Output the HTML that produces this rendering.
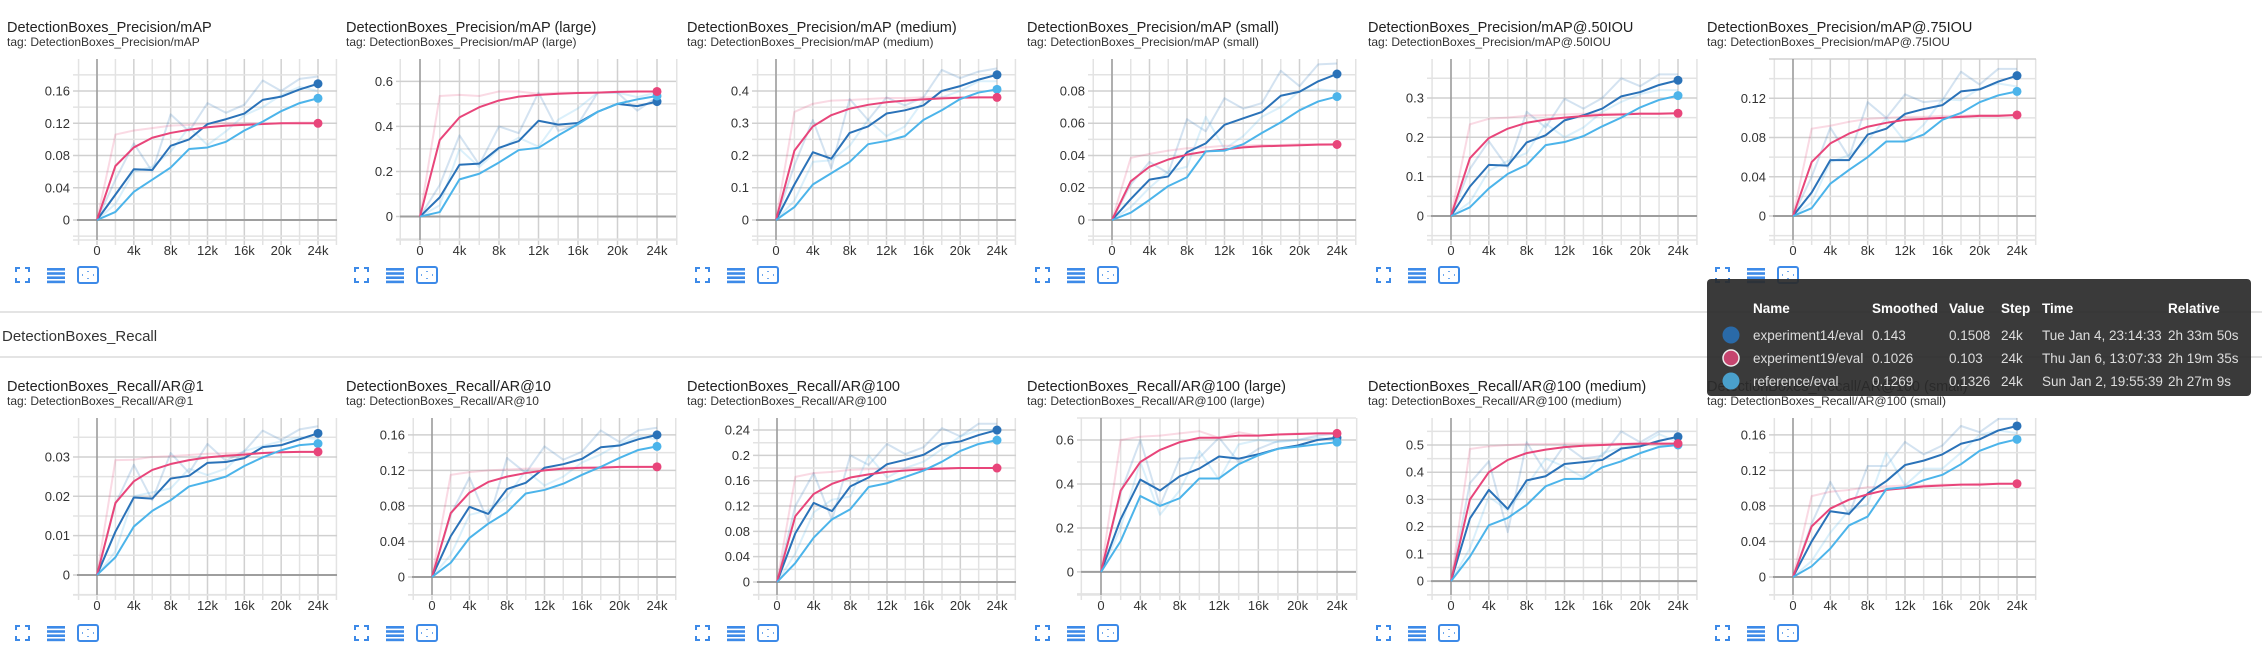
<!DOCTYPE html>
<html><head><meta charset="utf-8">
<style>
html,body{margin:0;padding:0;background:#fff;width:2262px;height:656px;overflow:hidden;font-family:"Liberation Sans",sans-serif;}
svg{display:block}
</style></head>
<body>
<svg id="root" width="2262" height="656" viewBox="0 0 2262 656" xmlns="http://www.w3.org/2000/svg">
<line x1="0" y1="312" x2="2262" y2="312" stroke="#dcdcdc" stroke-width="1.5"/>
<text x="2" y="341" font-size="15" fill="#333">DetectionBoxes_Recall</text>
<line x1="0" y1="357" x2="2262" y2="357" stroke="#dcdcdc" stroke-width="1.5"/>
<g id="charts"></g>
<g id="tooltip">
<rect x="1707" y="279" width="544" height="117" rx="4" fill="#2b2b2b" fill-opacity="0.93"/>
<g font-size="13.5" font-weight="bold" fill="#fff">
<text x="1753" y="313">Name</text><text x="1872" y="313">Smoothed</text><text x="1949" y="313">Value</text><text x="2001" y="313">Step</text><text x="2042" y="313">Time</text><text x="2168" y="313">Relative</text>
</g>
<g font-size="13.5" fill="#ddd">
<circle cx="1731" cy="335" r="8.5" fill="#2a6aa8"/>
<text x="1753" y="340">experiment14/eval</text><text x="1872" y="340">0.143</text><text x="1949" y="340">0.1508</text><text x="2001" y="340">24k</text><text x="2042" y="340">Tue Jan 4, 23:14:33</text><text x="2168" y="340">2h 33m 50s</text>
<circle cx="1731" cy="358" r="8" fill="#c6456f" stroke="#eee" stroke-width="1.5"/>
<text x="1753" y="363">experiment19/eval</text><text x="1872" y="363">0.1026</text><text x="1949" y="363">0.103</text><text x="2001" y="363">24k</text><text x="2042" y="363">Thu Jan 6, 13:07:33</text><text x="2168" y="363">2h 19m 35s</text>
<circle cx="1731" cy="381" r="8.5" fill="#4aa0cc"/>
<text x="1753" y="386">reference/eval</text><text x="1872" y="386">0.1269</text><text x="1949" y="386">0.1326</text><text x="2001" y="386">24k</text><text x="2042" y="386">Sun Jan 2, 19:55:39</text><text x="2168" y="386">2h 27m 9s</text>
</g>
</g>
</svg>
<script>
const steps = [0,2000,4000,6000,8000,10000,12000,14000,16000,18000,20000,22000,24000];
const xTickValues = [0,4000,8000,12000,16000,20000,24000];
const xTickLabels = ["0","4k","8k","12k","16k","20k","24k"];

// Chart 1: mAP
const c1Ticks = [0,0.04,0.08,0.12,0.16];
const c1Exp14 = [0,0.0315,0.063,0.062,0.092,0.1,0.119,0.125,0.132,0.149,0.153,0.162,0.169];
const c1Exp19 = [0,0.067,0.09,0.102,0.108,0.112,0.115,0.117,0.118,0.119,0.12,0.12,0.12];
const c1Ref = [0,0.01,0.035,0.05,0.065,0.088,0.09,0.097,0.111,0.122,0.135,0.145,0.151];
const c1Exp14Raw = [0,0.05,0.095,0.06,0.131,0.11,0.145,0.133,0.143,0.173,0.16,0.175,0.178];
const c1Exp19Raw = [0,0.106,0.111,0.114,0.117,0.118,0.119,0.12,0.12,0.12,0.12,0.121,0.121];
const c1RefRaw = [0,0.02,0.06,0.066,0.085,0.115,0.093,0.11,0.13,0.14,0.155,0.165,0.16];
// Chart 2: mAP (large)
const c2Ticks = [0,0.2,0.4,0.6];
const c2Exp14 = [0,0.085,0.23,0.235,0.305,0.335,0.425,0.408,0.415,0.465,0.5,0.49,0.51];
const c2Exp19 = [0,0.34,0.44,0.485,0.515,0.532,0.54,0.545,0.548,0.55,0.553,0.555,0.555];
const c2Ref = [0,0.02,0.165,0.19,0.24,0.295,0.305,0.36,0.41,0.465,0.5,0.52,0.535];
const c2Exp14Raw = [0,0.14,0.36,0.23,0.4,0.37,0.55,0.38,0.41,0.55,0.55,0.47,0.53];
const c2Exp19Raw = [0,0.535,0.54,0.535,0.555,0.555,0.545,0.55,0.55,0.55,0.555,0.555,0.555];
const c2RefRaw = [0,0.05,0.3,0.22,0.3,0.35,0.31,0.43,0.48,0.55,0.55,0.53,0.55];
// Chart 3: mAP (medium)
const c3Ticks = [0,0.1,0.2,0.3,0.4];
const c3Exp14 = [0,0.11,0.21,0.19,0.27,0.29,0.33,0.34,0.355,0.4,0.415,0.435,0.45];
const c3Exp19 = [0,0.215,0.29,0.325,0.345,0.357,0.365,0.37,0.374,0.377,0.379,0.38,0.38];
const c3Ref = [0,0.04,0.11,0.145,0.18,0.235,0.245,0.26,0.31,0.34,0.375,0.395,0.405];
const c3Exp14Raw = [0,0.17,0.31,0.16,0.375,0.31,0.38,0.355,0.38,0.465,0.44,0.46,0.47];
const c3Exp19Raw = [0,0.335,0.36,0.37,0.372,0.375,0.378,0.378,0.38,0.38,0.38,0.38,0.38];
const c3RefRaw = [0,0.06,0.18,0.185,0.23,0.31,0.26,0.29,0.37,0.38,0.4,0.43,0.43];
// Chart 4: mAP (small)
const c4Ticks = [0,0.02,0.04,0.06,0.08];
const c4Exp14 = [0,0.013,0.025,0.027,0.042,0.0475,0.059,0.063,0.067,0.077,0.0795,0.086,0.0905];
const c4Exp19 = [0,0.024,0.033,0.0375,0.0405,0.0425,0.0437,0.045,0.0457,0.046,0.0463,0.0467,0.0468];
const c4Ref = [0,0.0045,0.0125,0.021,0.0265,0.0425,0.043,0.047,0.054,0.0605,0.068,0.0735,0.0765];
const c4Exp14Raw = [0,0.022,0.036,0.029,0.0625,0.055,0.0755,0.069,0.0725,0.0925,0.083,0.0965,0.097];
const c4Exp19Raw = [0,0.0385,0.041,0.043,0.0445,0.045,0.046,0.046,0.0465,0.0465,0.047,0.047,0.047];
const c4RefRaw = [0,0.008,0.02,0.03,0.033,0.064,0.044,0.052,0.064,0.07,0.08,0.081,0.08];
// Chart 5: mAP@.50IOU
const c5Ticks = [0,0.1,0.2,0.3];
const c5Exp14 = [0,0.075,0.13,0.128,0.187,0.205,0.243,0.256,0.273,0.304,0.315,0.333,0.345];
const c5Exp19 = [0,0.147,0.198,0.222,0.237,0.245,0.25,0.254,0.257,0.258,0.26,0.26,0.261];
const c5Ref = [0,0.022,0.07,0.107,0.13,0.18,0.188,0.203,0.228,0.25,0.276,0.295,0.306];
const c5Exp14Raw = [0,0.12,0.19,0.123,0.265,0.225,0.298,0.273,0.3,0.35,0.33,0.36,0.36];
const c5Exp19Raw = [0,0.233,0.247,0.25,0.255,0.256,0.258,0.26,0.26,0.26,0.261,0.261,0.261];
const c5RefRaw = [0,0.035,0.115,0.14,0.16,0.235,0.2,0.225,0.265,0.29,0.31,0.32,0.32];
// Chart 6: mAP@.75IOU
const c6Ticks = [0,0.04,0.08,0.12];
const c6Exp14 = [0,0.024,0.057,0.057,0.083,0.089,0.104,0.109,0.113,0.127,0.129,0.137,0.143];
const c6Exp19 = [0,0.055,0.074,0.084,0.091,0.095,0.098,0.099,0.1,0.101,0.102,0.102,0.103];
const c6Ref = [0,0.008,0.033,0.047,0.06,0.076,0.076,0.083,0.098,0.105,0.116,0.123,0.127];
const c6Exp14Raw = [0,0.04,0.09,0.06,0.116,0.1,0.124,0.116,0.118,0.147,0.134,0.15,0.15];
const c6Exp19Raw = [0,0.089,0.092,0.096,0.099,0.1,0.101,0.101,0.102,0.102,0.103,0.103,0.103];
const c6RefRaw = [0,0.014,0.055,0.062,0.077,0.1,0.076,0.093,0.119,0.118,0.13,0.135,0.132];
// Chart 7: AR@1
const c7Ticks = [0,0.01,0.02,0.03];
const c7Exp14 = [0,0.011,0.0197,0.0194,0.0245,0.0252,0.0285,0.0287,0.0297,0.0325,0.033,0.0345,0.036];
const c7Exp19 = [0,0.0183,0.0238,0.0267,0.0282,0.0292,0.0299,0.0303,0.0306,0.031,0.0312,0.0313,0.0313];
const c7Ref = [0,0.0045,0.0123,0.0163,0.019,0.0225,0.0237,0.025,0.0277,0.0299,0.0317,0.033,0.0334];
const c7Exp14Raw = [0,0.018,0.028,0.019,0.031,0.026,0.0333,0.029,0.0315,0.0367,0.0343,0.037,0.0378];
const c7Exp19Raw = [0,0.0292,0.0293,0.03,0.0302,0.0305,0.0308,0.0309,0.031,0.031,0.0312,0.0313,0.0313];
const c7RefRaw = [0,0.006,0.02,0.021,0.022,0.027,0.0254,0.027,0.0315,0.0328,0.034,0.035,0.0345];
// Chart 8: AR@10
const c8Ticks = [0,0.04,0.08,0.12,0.16];
const c8Exp14 = [0,0.046,0.079,0.071,0.099,0.106,0.123,0.127,0.133,0.146,0.148,0.155,0.16];
const c8Exp19 = [0,0.072,0.095,0.107,0.113,0.117,0.12,0.122,0.123,0.123,0.124,0.124,0.124];
const c8Ref = [0,0.016,0.044,0.06,0.073,0.094,0.098,0.105,0.115,0.124,0.134,0.143,0.147];
const c8Exp14Raw = [0,0.07,0.112,0.062,0.134,0.117,0.147,0.132,0.141,0.165,0.152,0.165,0.168];
const c8Exp19Raw = [0,0.115,0.118,0.12,0.121,0.122,0.122,0.123,0.123,0.124,0.124,0.124,0.124];
const c8RefRaw = [0,0.025,0.07,0.075,0.09,0.12,0.103,0.113,0.129,0.138,0.15,0.158,0.155];
// Chart 9: AR@100
const c9Ticks = [0,0.04,0.08,0.12,0.16,0.2,0.24];
const c9Exp14 = [0,0.077,0.125,0.112,0.151,0.165,0.186,0.193,0.201,0.218,0.222,0.232,0.24];
const c9Exp19 = [0,0.104,0.139,0.155,0.165,0.17,0.174,0.176,0.178,0.179,0.18,0.18,0.18];
const c9Ref = [0,0.03,0.07,0.099,0.115,0.15,0.156,0.166,0.176,0.19,0.207,0.218,0.224];
const c9Exp14Raw = [0,0.12,0.172,0.098,0.2,0.185,0.218,0.202,0.213,0.243,0.23,0.25,0.25];
const c9Exp19Raw = [0,0.166,0.172,0.174,0.177,0.178,0.179,0.179,0.18,0.18,0.18,0.18,0.18];
const c9RefRaw = [0,0.045,0.11,0.13,0.135,0.2,0.165,0.18,0.19,0.21,0.23,0.24,0.24];
// Chart 10: AR@100 (large)
const c10Ticks = [0,0.2,0.4,0.6];
const c10Exp14 = [0,0.24,0.42,0.37,0.435,0.47,0.525,0.515,0.535,0.56,0.575,0.6,0.61];
const c10Exp19 = [0,0.37,0.5,0.555,0.59,0.61,0.61,0.62,0.62,0.625,0.627,0.63,0.63];
const c10Ref = [0,0.14,0.345,0.3,0.335,0.425,0.425,0.49,0.53,0.56,0.57,0.58,0.59];
const c10Exp14Raw = [0,0.36,0.6,0.3,0.515,0.52,0.61,0.5,0.56,0.595,0.6,0.62,0.63];
const c10Exp19Raw = [0,0.6,0.615,0.62,0.63,0.64,0.61,0.635,0.62,0.625,0.63,0.63,0.63];
const c10RefRaw = [0,0.2,0.5,0.26,0.37,0.55,0.42,0.58,0.6,0.59,0.6,0.61,0.6];
// Chart 11: AR@100 (medium)
const c11Ticks = [0,0.1,0.2,0.3,0.4,0.5];
const c11Exp14 = [0,0.23,0.335,0.265,0.37,0.385,0.43,0.437,0.445,0.487,0.495,0.515,0.53];
const c11Exp19 = [0,0.3,0.4,0.445,0.47,0.483,0.492,0.497,0.5,0.503,0.505,0.505,0.505];
const c11Ref = [0,0.09,0.205,0.232,0.28,0.348,0.375,0.376,0.418,0.44,0.47,0.493,0.5];
const c11Exp14Raw = [0,0.36,0.44,0.18,0.51,0.4,0.5,0.45,0.46,0.55,0.51,0.55,0.55];
const c11Exp19Raw = [0,0.485,0.495,0.5,0.503,0.503,0.505,0.505,0.505,0.505,0.505,0.505,0.505];
const c11RefRaw = [0,0.12,0.31,0.26,0.35,0.45,0.42,0.38,0.47,0.49,0.5,0.54,0.51];
// Chart 12: AR@100 (small)
const c12Ticks = [0,0.04,0.08,0.12,0.16];
const c12Exp14 = [0,0.04,0.074,0.071,0.094,0.108,0.126,0.131,0.138,0.15,0.155,0.165,0.17];
const c12Exp19 = [0,0.057,0.077,0.087,0.093,0.098,0.1,0.102,0.103,0.104,0.104,0.105,0.105];
const c12Ref = [0,0.012,0.032,0.058,0.068,0.099,0.101,0.109,0.115,0.127,0.142,0.15,0.155];
const c12Exp14Raw = [0,0.06,0.107,0.07,0.125,0.125,0.152,0.138,0.148,0.17,0.163,0.178,0.178];
const c12Exp19Raw = [0,0.091,0.096,0.098,0.101,0.102,0.103,0.103,0.104,0.104,0.105,0.105,0.105];
const c12RefRaw = [0,0.018,0.05,0.075,0.082,0.14,0.103,0.122,0.122,0.14,0.16,0.165,0.162];

const charts = [
 {t:"DetectionBoxes_Precision/mAP",cx:7,row:0,l:77,r:337,y0:-0.0248,y1:0.1997,ticks:c1Ticks,s:[c1Exp14,c1Exp19,c1Ref],raw:[c1Exp14Raw,c1Exp19Raw,c1RefRaw]},
 {t:"DetectionBoxes_Precision/mAP (large)",cx:346,row:0,l:400,r:676,y0:-0.104,y1:0.699,ticks:c2Ticks,s:[c2Exp14,c2Exp19,c2Ref],raw:[c2Exp14Raw,c2Exp19Raw,c2RefRaw]},
 {t:"DetectionBoxes_Precision/mAP (medium)",cx:687,row:0,l:756,r:1016,y0:-0.062,y1:0.499,ticks:c3Ticks,s:[c3Exp14,c3Exp19,c3Ref],raw:[c3Exp14Raw,c3Exp19Raw,c3RefRaw]},
 {t:"DetectionBoxes_Precision/mAP (small)",cx:1027,row:0,l:1092,r:1356,y0:-0.0124,y1:0.0998,ticks:c4Ticks,s:[c4Exp14,c4Exp19,c4Ref],raw:[c4Exp14Raw,c4Exp19Raw,c4RefRaw]},
 {t:"DetectionBoxes_Precision/mAP@.50IOU",cx:1368,row:0,l:1431,r:1697,y0:-0.061,y1:0.399,ticks:c5Ticks,s:[c5Exp14,c5Exp19,c5Ref],raw:[c5Exp14Raw,c5Exp19Raw,c5RefRaw]},
 {t:"DetectionBoxes_Precision/mAP@.75IOU",cx:1707,row:0,l:1773,r:2036,y0:-0.0244,y1:0.16,ticks:c6Ticks,s:[c6Exp14,c6Exp19,c6Ref],raw:[c6Exp14Raw,c6Exp19Raw,c6RefRaw]},
 {t:"DetectionBoxes_Recall/AR@1",cx:7,row:1,l:77,r:337,y0:-0.0051,y1:0.0399,ticks:c7Ticks,s:[c7Exp14,c7Exp19,c7Ref],raw:[c7Exp14Raw,c7Exp19Raw,c7RefRaw]},
 {t:"DetectionBoxes_Recall/AR@10",cx:346,row:1,l:412,r:676,y0:-0.0203,y1:0.179,ticks:c8Ticks,s:[c8Exp14,c8Exp19,c8Ref],raw:[c8Exp14Raw,c8Exp19Raw,c8RefRaw]},
 {t:"DetectionBoxes_Recall/AR@100",cx:687,row:1,l:757,r:1016,y0:-0.0205,y1:0.259,ticks:c9Ticks,s:[c9Exp14,c9Exp19,c9Ref],raw:[c9Exp14Raw,c9Exp19Raw,c9RefRaw]},
 {t:"DetectionBoxes_Recall/AR@100 (large)",cx:1027,row:1,l:1081,r:1356,y0:-0.105,y1:0.7,ticks:c10Ticks,s:[c10Exp14,c10Exp19,c10Ref],raw:[c10Exp14Raw,c10Exp19Raw,c10RefRaw]},
 {t:"DetectionBoxes_Recall/AR@100 (medium)",cx:1368,row:1,l:1431,r:1697,y0:-0.051,y1:0.599,ticks:c11Ticks,s:[c11Exp14,c11Exp19,c11Ref],raw:[c11Exp14Raw,c11Exp19Raw,c11RefRaw]},
 {t:"DetectionBoxes_Recall/AR@100 (small)",cx:1707,row:1,l:1773,r:2036,y0:-0.0203,y1:0.179,ticks:c12Ticks,s:[c12Exp14,c12Exp19,c12Ref],raw:[c12Exp14Raw,c12Exp19Raw,c12RefRaw]}
];
const colors = ["#2a72b8","#e8457a","#4cb4ea"];
const seriesNames = ["experiment14","experiment19","reference"];
const NS = "http://www.w3.org/2000/svg";
const root = document.getElementById("charts");
function mk(tag, attrs, parent){
  const e = document.createElementNS(NS, tag);
  for (const k in attrs) e.setAttribute(k, attrs[k]);
  parent.appendChild(e);
  return e;
}
function fmt(v){ return String(parseFloat(v.toFixed(4))); }

charts.forEach((c, ci) => {
  const dy = c.row === 0 ? 0 : 359;
  const top = 59 + dy, bot = 240 + dy - (c.row===1?4:0);
  const g = mk("g", {}, root);
  
  
  const t = mk("text", {x:c.cx, y:32+dy, "font-size":14.5, fill:"#212121"}, g);
  t.textContent = c.t;
  
  
  const tg = mk("text", {x:c.cx, y:46+dy, "font-size":12, fill:"#333"}, g);
  tg.textContent = "tag: " + c.t;
  
  

  const x0px = c.l + 20, x24px = c.r - 19;
  const xs = v => x0px + (v/24000)*(x24px - x0px);
  const ys = v => bot - (v - c.y0)/(c.y1 - c.y0)*(bot - top);

  // vertical grid
  for (let s = -2000; s <= 26000; s += 2000) {
    const x = xs(s);
    if (x < c.l - 1 || x > c.r + 1) continue;
    const major = (s % 4000 === 0);
    const gl = mk("line", {x1:x, y1:top, x2:x, y2:bot+5, stroke: major ? "#d0d0d0" : "#e3e3e3", "stroke-width":1.5}, g);
    
    
  }
  // horizontal grid
  const step = c.ticks[1] - c.ticks[0];
  for (let k = -4; k <= 40; k++) {
    const v = k * step / 2;
    if (v < c.y0 - 1e-9 || v > c.y1 + 1e-9) continue;
    const y = ys(v);
    const major = (k % 2 === 0);
    const hl = mk("line", {x1:c.l-4, y1:y, x2:c.r, y2:y, stroke: major ? "#d0d0d0" : "#e3e3e3", "stroke-width":1.5}, g);
    
    
  }
  const bl = mk("line", {x1:c.l-4, y1:bot, x2:c.r, y2:bot, stroke:"#e3e3e3", "stroke-width":1.5}, g);
  
  
  // zero line & y-axis
  const zl = mk("line", {x1:c.l, y1:ys(0), x2:c.r, y2:ys(0), stroke:"#9e9e9e", "stroke-width":2}, g);
  
  
  const ya = mk("line", {x1:xs(0), y1:top, x2:xs(0), y2:bot, stroke:"#8a8a8a", "stroke-width":1.2}, g);
  
  
  // y tick labels
  c.ticks.forEach(v => {
    const tl = mk("text", {x:c.l-7, y:ys(v)+4.5, "font-size":13, fill:"#333", "text-anchor":"end"}, g);
    tl.textContent = fmt(v);
    
    
  });
  // x tick labels
  xTickValues.forEach((v, i) => {
    const tl = mk("text", {x:xs(v), y:255+dy-(c.row===1?4:0), "font-size":13, fill:"#333", "text-anchor":"middle"}, g);
    tl.textContent = xTickLabels[i];
    
    
  });
  // raw lines
  c.raw.forEach((arr, si) => {
    const p = mk("polyline", {points: arr.map((v,i)=>xs(steps[i])+","+ys(v)).join(" "), fill:"none", stroke:colors[si], "stroke-opacity":0.2, "stroke-width":2, "stroke-linejoin":"round"}, g);
    
    
  });
  // smoothed lines
  c.s.forEach((arr, si) => {
    const p = mk("polyline", {points: arr.map((v,i)=>xs(steps[i])+","+ys(v)).join(" "), fill:"none", stroke:colors[si], "stroke-width":2, "stroke-linejoin":"round"}, g);
    
    
  });
  [0,2,1].forEach(si => {
    const arr = c.s[si];
    const last = arr.length - 1;
    const d = mk("circle", {cx:xs(steps[last]), cy:ys(arr[last]), r:4.5, fill:colors[si]}, g);
    
    
  });
  // icons
  const iy = (c.row===0 ? 275 : 633);
  const ix = c.cx + 9;
  const ic = mk("g", {stroke:"#3d8ae8", fill:"none", "stroke-width":2}, g);
  
  
  mk("path", {d:`M${ix} ${iy-3}v-4h4 M${ix+9} ${iy-7}h4v4 M${ix+13} ${iy+3}v4h-4 M${ix+4} ${iy+7}h-4v-4`}, ic);
  const lg = mk("g", {fill:"#3d8ae8"}, g);
  
  
  for (let k=0;k<4;k++) mk("rect", {x:ix+31, y:iy-7+k*4.2, width:18, height:2.6}, lg);
  const fb = mk("g", {stroke:"#3d8ae8", fill:"none"}, g);
  
  
  mk("rect", {x:ix+62, y:iy-8, width:20, height:16, rx:2, "stroke-width":2}, fb);
  mk("path", {d:`M${ix+72} ${iy-4}v1 M${ix+72} ${iy+3}v1 M${ix+66} ${iy}h1 M${ix+77} ${iy}h1`, "stroke-width":1.5}, fb);
});
</script>
</body></html>
